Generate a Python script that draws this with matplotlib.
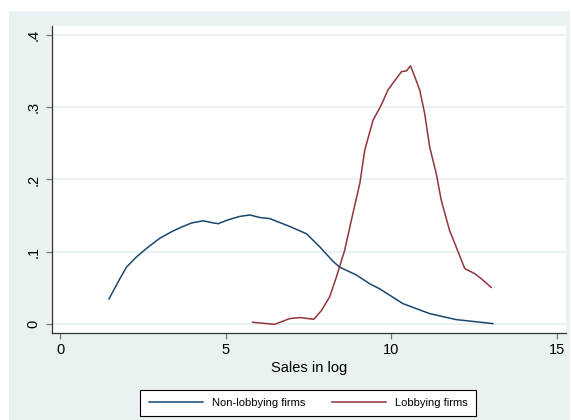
import matplotlib
matplotlib.use("Agg")
import matplotlib.pyplot as plt
from matplotlib.patches import Rectangle

plt.rcParams['font.family'] = ['Liberation Sans', 'DejaVu Sans']

# kernel density of log sales, non-lobbying firms
sales_non = [1.47, 1.80, 2.0, 2.30, 2.61, 3.01, 3.41, 3.70, 3.97, 4.32, 4.62,
             4.77, 5.05, 5.42, 5.73, 6.03, 6.33, 6.94, 7.44, 7.84, 8.24, 8.44,
             8.95, 9.35, 9.65, 10.35, 11.16, 11.96, 13.07]
dens_non = [0.035, 0.063, 0.079, 0.093, 0.105, 0.119, 0.129, 0.135, 0.140,
            0.143, 0.140, 0.139, 0.144, 0.149, 0.151, 0.1475, 0.146, 0.135,
            0.125, 0.107, 0.087, 0.079, 0.068, 0.056, 0.049, 0.0286, 0.0148,
            0.0065, 0.001]

# kernel density of log sales, lobbying firms
sales_lob = [5.81, 6.48, 6.93, 7.24, 7.66, 7.89, 8.14, 8.34, 8.59, 8.9, 9.05,
             9.2, 9.45, 9.70, 9.90, 10.05, 10.31, 10.46, 10.58, 10.71, 10.86,
             11.01, 11.16, 11.36, 11.51, 11.76, 11.96, 12.22, 12.52, 12.72,
             13.02]
dens_lob = [0.0028, 0.0, 0.0079, 0.0093, 0.007, 0.019, 0.038, 0.065, 0.102,
            0.165, 0.1946, 0.2407, 0.282, 0.303, 0.3236, 0.333, 0.349, 0.350,
            0.357, 0.342, 0.3236, 0.291, 0.245, 0.208, 0.1715, 0.130, 0.107,
            0.077, 0.070, 0.063, 0.051]

x_ticks = [0, 5, 10, 15]
y_ticks = [0, 0.1, 0.2, 0.3, 0.4]
y_ticklabels = ['0', '.1', '.2', '.3', '.4']

navy = '#1a476f'
maroon = '#90353b'
bg = '#eaf1f3'

fig = plt.figure(figsize=(5.71, 4.20), dpi=100, facecolor='white')
fig.patches.append(Rectangle((9 / 571, 0), 561 / 571, 409 / 420,
                             transform=fig.transFigure, facecolor=bg,
                             edgecolor='none', zorder=-10))

ax = fig.add_axes([51.7 / 571, 1 - 333 / 420, 514.3 / 571, 307 / 420])
ax.set_zorder(1)
ax.set_facecolor('white')

ax.plot(sales_non, dens_non, color=navy, lw=1.1, label='Non-lobbying firms')
ax.plot(sales_lob, dens_lob, color=maroon, lw=1.1, label='Lobbying firms')

ax.set_xlim(-0.26, 15.28)
ax.set_ylim(-0.012, 0.412)
ax.set_xticks(x_ticks)
ax.set_yticks(y_ticks)
ax.set_yticklabels(y_ticklabels, rotation=90, va='center')
ax.grid(axis='y', color='#e6eff1', lw=1.2)
ax.set_axisbelow(True)

for side in ['top', 'right']:
    ax.spines[side].set_visible(False)
for side in ['left', 'bottom']:
    ax.spines[side].set_color('#333333')
    ax.spines[side].set_linewidth(0.9)
ax.tick_params(axis='both', length=4.3, width=0.9, color='#777777',
               labelsize=10.5, labelcolor='black')
ax.tick_params(axis='y', pad=4)
ax.tick_params(axis='x', pad=3)

ax.set_xlabel('Sales in log', fontsize=10.5, labelpad=3)

leg = fig.legend(loc='center', bbox_to_anchor=(308.3 / 571, 1 - 403 / 420),
                 ncol=2, fontsize=8, frameon=True, fancybox=False,
                 edgecolor='black', framealpha=1, handlelength=4.9,
                 handletextpad=0.8, columnspacing=2.4, borderpad=0.75)
leg.get_frame().set_linewidth(0.8)

fig.savefig('out.png', dpi=100, facecolor='white')
